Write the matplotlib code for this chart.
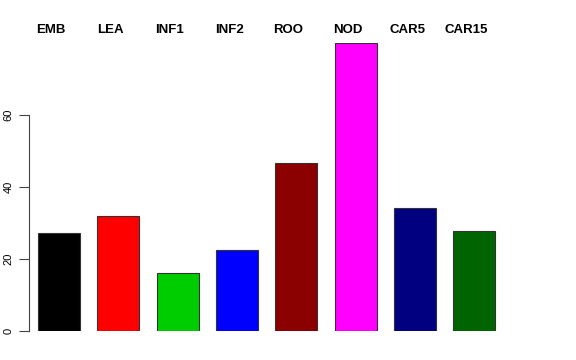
import matplotlib
matplotlib.use('Agg')
import matplotlib.pyplot as plt
import numpy as np

# tissue groups and their bar heights
labels = ['EMB', 'LEA', 'INF1', 'INF2', 'ROO', 'NOD', 'CAR5', 'CAR15']
values = [27.1, 31.9, 16.1, 22.5, 46.6, 80.0, 34.2, 27.8]
colors = ['black', 'red', '#00CD00', 'blue', '#8B0000', 'magenta', '#000080', '#006400']
yticks = [0, 20, 40, 60]

plt.rcParams['font.family'] = ['Liberation Sans', 'DejaVu Sans']

fig = plt.figure(figsize=(5.76, 3.6), dpi=100)
ax = fig.add_axes([28.7/576, 29/360, (509.9-28.7)/576, (331-42.7)/360])

x = np.arange(len(labels))
ax.bar(x, values, width=0.708, color=colors, edgecolor='#333333', linewidth=0.8)
ax.set_xlim(-0.514, 7.6)
ax.set_ylim(0, 80)

for s in ['top', 'right', 'bottom']:
    ax.spines[s].set_visible(False)
ax.spines['left'].set_bounds(0, 60)
ax.spines['left'].set_color('#444444')
ax.set_xticks([])
ax.set_yticks(yticks)
ax.set_yticklabels([str(v) for v in yticks], rotation=90, va='center', fontsize=8)
ax.tick_params(axis='y', length=7, color='#444444', pad=4)

for i, lab in enumerate(labels):
    ax.text(i - 0.135, 1.044, lab, transform=ax.get_xaxis_transform(),
            ha='center', va='center', fontsize=9.5, fontweight='bold')

fig.savefig('out.png', dpi=100)
